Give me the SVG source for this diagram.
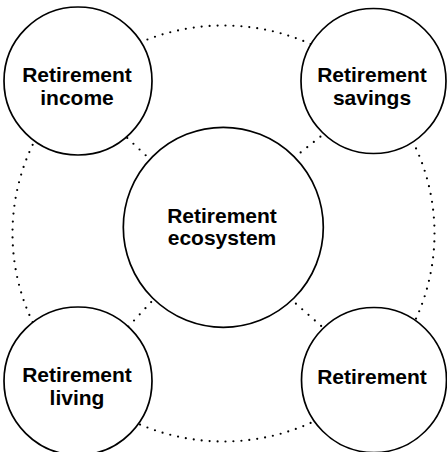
<svg xmlns="http://www.w3.org/2000/svg" width="447" height="452" viewBox="0 0 447 452">
<style>
.node{fill:#fff;stroke:#000;stroke-width:1.7}
.dot{fill:none;stroke:#000;stroke-width:2.2;stroke-linecap:round}
.ring{stroke-dasharray:0 1}
.spoke{stroke-dasharray:0 8.4}
.lbl{font-family:"Liberation Sans",Arial,sans-serif;font-weight:bold;font-size:21px;text-anchor:middle;fill:#000}
</style>
<rect width="447" height="452" fill="#fff"/>
<g id="connectors">
<ellipse class="dot ring" cx="223.5" cy="233.5" rx="211" ry="208" pathLength="165"/>
<line class="dot spoke" x1="102.8" y1="115" x2="172" y2="180"/>
<line class="dot spoke" x1="346.7" y1="115.8" x2="274" y2="173.6"/>
<line class="dot spoke" x1="174" y1="277.4" x2="108" y2="348.6"/>
<line class="dot spoke" x1="270.7" y1="281.5" x2="345" y2="347"/>
</g>
<g id="center">
<circle class="node" cx="223.3" cy="227.3" r="100"/>
<text class="lbl" x="222" y="223">Retirement</text>
<text class="lbl" x="222" y="245">ecosystem</text>
</g>
<g id="income">
<circle class="node" cx="78" cy="81" r="74"/>
<text class="lbl" x="77" y="82">Retirement</text>
<text class="lbl" x="77" y="105">income</text>
</g>
<g id="savings">
<circle class="node" cx="373.5" cy="81" r="72.5"/>
<text class="lbl" x="372" y="82">Retirement</text>
<text class="lbl" x="372" y="105">savings</text>
</g>
<g id="living">
<circle class="node" cx="78" cy="381" r="74"/>
<text class="lbl" x="77" y="382">Retirement</text>
<text class="lbl" x="77" y="405">living</text>
</g>
<g id="retirement">
<circle class="node" cx="374" cy="380" r="72.5"/>
<text class="lbl" x="372" y="384">Retirement</text>
</g>
</svg>
